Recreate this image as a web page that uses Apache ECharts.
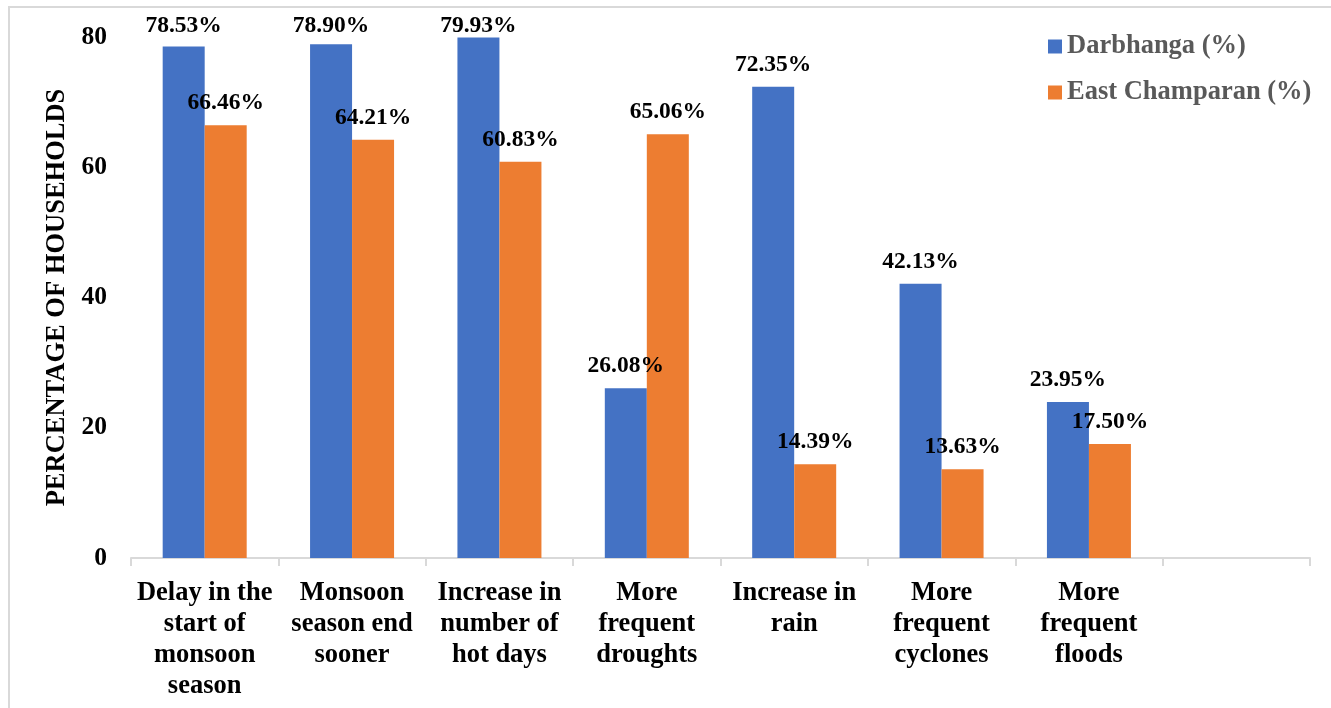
<!DOCTYPE html>
<html>
<head>
<meta charset="utf-8">
<script src="https://cdn.jsdelivr.net/npm/echarts@6/dist/echarts.min.js"></script>
<style>
  html, body { margin: 0; padding: 0; background: #fff; }
  #frame { position: absolute; left: 8px; top: 6px; width: 1340px; height: 720px; border: 2px solid #d9d9d9; box-sizing: border-box; }
  #chart { position: absolute; left: 0; top: 0; width: 1331px; height: 708px; }
</style>
</head>
<body>
<div id="frame"></div>
<div id="chart"></div>
<script>
// Perceived changes in climate, share of households per district
const categories = [
  'Delay in the\nstart of\nmonsoon\nseason',
  'Monsoon\nseason end\nsooner',
  'Increase in\nnumber of\nhot days',
  'More\nfrequent\ndroughts',
  'Increase in\nrain',
  'More\nfrequent\ncyclones',
  'More\nfrequent\nfloods',
  ''
];
const darbhanga = [78.53, 78.90, 79.93, 26.08, 72.35, 42.13, 23.95, null];
const eastChamparan = [66.46, 64.21, 60.83, 65.06, 14.39, 13.63, 17.50, null];
const yTicks = { min: 0, max: 80, interval: 20 };

const serif = '"Liberation Serif", "Times New Roman", serif';

const valueLabel = {
  show: true,
  position: 'top',
  distance: 10,
  color: '#000',
  fontFamily: serif,
  fontWeight: 'bold',
  fontSize: 23.5,
  formatter: p => p.value.toFixed(2) + '%'
};

const chart = echarts.init(document.getElementById('chart'), null, { renderer: 'canvas' });
chart.setOption({
  animation: false,
  backgroundColor: 'transparent',
  grid: { left: 131, right: 21, top: 37, bottom: 150, containLabel: false },
  legend: {
    orient: 'vertical',
    left: 1048,
    top: 33,
    padding: 0,
    itemWidth: 14,
    itemHeight: 14,
    itemGap: 19,
    icon: 'rect',
    textStyle: { color: '#595959', fontFamily: serif, fontWeight: 'bold', fontSize: 26.5 },
    data: ['Darbhanga (%)', 'East Champaran (%)']
  },
  // keep value labels from running past the top of the chart
  labelLayout: function (p) {
    const minTop = 14;
    return p.labelRect.y < minTop ? { dy: minTop - p.labelRect.y } : {};
  },
  xAxis: {
    type: 'category',
    data: categories,
    axisLine: { lineStyle: { color: '#d9d9d9', width: 2 } },
    axisTick: { show: true, length: 8, lineStyle: { color: '#d9d9d9', width: 2 } },
    axisLabel: {
      interval: 0,
      margin: 20,
      color: '#000',
      fontFamily: serif,
      fontWeight: 'bold',
      fontSize: 26.5,
      lineHeight: 31
    }
  },
  yAxis: {
    type: 'value',
    min: yTicks.min,
    max: yTicks.max,
    interval: yTicks.interval,
    name: 'PERCENTAGE OF HOUSEHOLDS',
    nameLocation: 'middle',
    nameRotate: 90,
    nameGap: 53,
    nameTextStyle: { color: '#000', fontFamily: serif, fontWeight: 'bold', fontSize: 26.5 },
    axisLine: { show: false },
    axisTick: { show: false },
    splitLine: { show: false },
    axisLabel: { margin: 24, color: '#000', fontFamily: serif, fontWeight: 'bold', fontSize: 25.5 }
  },
  series: [
    {
      name: 'Darbhanga (%)',
      type: 'bar',
      data: darbhanga,
      barGap: '0%',
      barCategoryGap: '43%',
      itemStyle: { color: '#4472C4' },
      label: valueLabel
    },
    {
      name: 'East Champaran (%)',
      type: 'bar',
      data: eastChamparan,
      barGap: '0%',
      barCategoryGap: '43%',
      itemStyle: { color: '#ED7D31' },
      label: valueLabel
    }
  ]
});
</script>
</body>
</html>
